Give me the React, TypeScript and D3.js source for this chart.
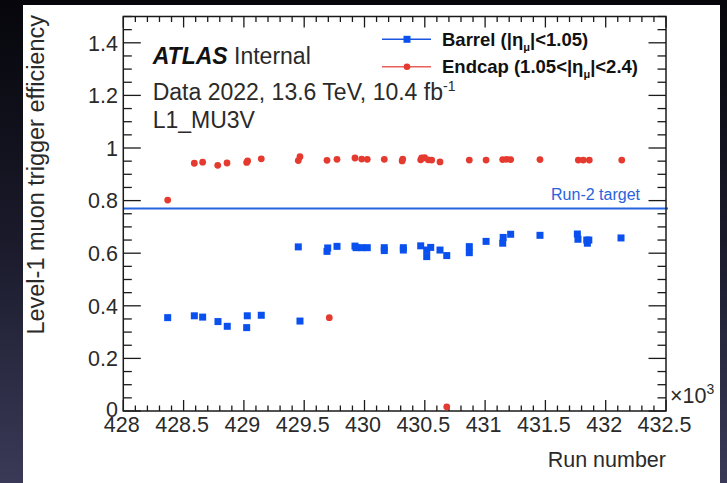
import * as d3 from "d3";

const WIDTH = 727;
const HEIGHT = 483;
const MARGIN = { top: 16.5, right: 61, bottom: 72, left: 123.3 };

// run numbers (x10^3) and L1_MU3V efficiencies
const barrelRuns = [
  428.368, 428.589, 428.658, 428.785, 428.862, 429.028, 429.023, 429.144, 429.451, 429.465,
  429.689, 429.695, 429.772, 429.921, 429.93, 429.977, 430.023, 430.164, 430.164, 430.322,
  430.322, 430.466, 430.516, 430.516, 430.549, 430.626, 430.682, 430.869, 430.869, 431.008,
  431.146, 431.15, 431.212, 431.455, 431.765, 431.77, 431.843, 431.848, 431.86, 432.127,
];
const barrelEff = [
  0.355, 0.362, 0.357, 0.34, 0.322, 0.362, 0.317, 0.364, 0.624, 0.342,
  0.607, 0.62, 0.626, 0.627, 0.621, 0.621, 0.621, 0.621, 0.61, 0.621,
  0.612, 0.628, 0.612, 0.587, 0.622, 0.612, 0.591, 0.625, 0.602, 0.645,
  0.638, 0.66, 0.672, 0.668, 0.673, 0.653, 0.65, 0.638, 0.65, 0.658,
];
const endcapRuns = [
  428.368, 428.589, 428.658, 428.783, 428.86, 429.023, 429.031, 429.144, 429.451, 429.465,
  429.689, 429.708, 429.772, 429.921, 429.977, 430.023, 430.164, 430.312, 430.317, 430.466,
  430.474, 430.498, 430.529, 430.557, 430.626, 430.682, 430.869, 431.008, 431.146, 431.179,
  431.212, 431.455, 431.773, 431.814, 431.864, 432.133,
];
const endcapEff = [
  0.802, 0.942, 0.946, 0.934, 0.943, 0.945, 0.951, 0.959, 0.952, 0.967,
  0.953, 0.355, 0.957, 0.962, 0.958, 0.957, 0.957, 0.951, 0.958, 0.955,
  0.962, 0.963, 0.955, 0.954, 0.947, 0.016, 0.954, 0.954, 0.956, 0.957,
  0.956, 0.956, 0.954, 0.954, 0.954, 0.954,
];
const run2Target = 0.77;

const BLUE = "#0a50ee";
const RED = "#e53a2f";
const INK = "#2a2a2a";
const FONT = "'Liberation Sans', Arial, Helvetica, sans-serif";

export default function App() {
  const x0 = MARGIN.left;
  const x1 = WIDTH - MARGIN.right;
  const y0 = HEIGHT - MARGIN.bottom;
  const y1 = MARGIN.top;

  const xScale = d3.scaleLinear().domain([428, 432.5]).range([x0, x1]);
  const yScale = d3.scaleLinear().domain([0, 1.5]).range([y0, y1]);

  const xMajor = d3.ticks(428, 432.5, 9);
  const xMinor = d3.ticks(428, 432.5, 45);
  const yMajor = d3.ticks(0, 1.5, 8);
  const yMinor = d3.ticks(0, 1.5, 30);
  const fmt = d3.format("~g");

  const barrel = barrelRuns.map((r, i) => ({ r, e: barrelEff[i] }));
  const endcap = endcapRuns.map((r, i) => ({ r, e: endcapEff[i] }));

  const xMajLen = 11;
  const xMinLen = 5.5;
  const yMajLen = 17.5;
  const yMinLen = 8.5;

  return (
    <div style={{ position: "absolute", left: 0, top: 0 }}>
      <svg width={WIDTH} height={HEIGHT} style={{ display: "block" }}>
        <defs>
          <linearGradient id="bg" x1="0" y1="0" x2="0" y2="1">
            <stop offset="0" stopColor="#06060b" />
            <stop offset="0.5" stopColor="#1a1a2b" />
            <stop offset="1" stopColor="#3a3a58" />
          </linearGradient>
        </defs>
        <rect width={WIDTH} height={HEIGHT} fill="url(#bg)" />
        <rect x={23} y={5} width={697} height={HEIGHT - 5} fill="#fff" />

        {/* run-2 target */}
        <line x1={x0} x2={x1 + 2} y1={yScale(run2Target)} y2={yScale(run2Target)} stroke="#2563e0" strokeWidth={2} />
        <text x={640} y={yScale(run2Target) - 8} textAnchor="end" fontFamily={FONT} fontSize={16} fill="#2a62dc">
          Run-2 target
        </text>

        {/* ticks */}
        <g stroke="#1a1a1a" strokeWidth={1.3}>
          {xMinor.map((t) => {
            const major = xMajor.some((m) => Math.abs(m - t) < 1e-6);
            const len = major ? xMajLen : xMinLen;
            return (
              <g key={"x" + t}>
                <line x1={xScale(t)} x2={xScale(t)} y1={y0} y2={y0 - len} />
                <line x1={xScale(t)} x2={xScale(t)} y1={y1} y2={y1 + len} />
              </g>
            );
          })}
          {yMinor.map((t) => {
            const major = yMajor.some((m) => Math.abs(m - t) < 1e-6);
            const len = major ? yMajLen : yMinLen;
            return (
              <g key={"y" + t}>
                <line x1={x0} x2={x0 + len} y1={yScale(t)} y2={yScale(t)} />
                <line x1={x1} x2={x1 - len} y1={yScale(t)} y2={yScale(t)} />
              </g>
            );
          })}
        </g>
        <rect x={x0} y={y1} width={x1 - x0} height={y0 - y1} fill="none" stroke="#1a1a1a" strokeWidth={1.5} />

        {/* tick labels */}
        <g fontFamily={FONT} fontSize={21.5} fill={INK}>
          {xMajor.map((t) => (
            <text key={"xl" + t} x={xScale(t) - 1.5} y={432} textAnchor="middle">
              {fmt(t)}
            </text>
          ))}
          {yMajor.map((t) => (
            <text key={"yl" + t} x={118} y={yScale(t) - (t === 0 ? 2 : 0)} dy="0.36em" textAnchor="end">
              {fmt(t)}
            </text>
          ))}
          <text x={670} y={403}>
            ×10<tspan fontSize={14} dy={-9}>3</tspan>
          </text>
        </g>

        {/* axis titles */}
        <text x={x1} y={467} textAnchor="end" fontFamily={FONT} fontSize={21.5} fill={INK}>
          Run number
        </text>
        <text
          transform={`translate(44,${y1 - 1.5}) rotate(-90)`}
          textAnchor="end"
          fontFamily={FONT}
          fontSize={23.5}
          fill={INK}
        >
          Level-1 muon trigger efficiency
        </text>

        {/* ATLAS labels */}
        <g fontFamily={FONT} fontSize={23} fill={INK}>
          <text x={152.7} y={64}>
            <tspan fontWeight="bold" fontStyle="italic" fill="#111">ATLAS</tspan> Internal
          </text>
          <text x={152.7} y={100}>
            Data 2022, 13.6 TeV, 10.4 fb<tspan fontSize={14} dy={-9}>-1</tspan>
          </text>
          <text x={152.7} y={128}>
            L1_MU3V
          </text>
        </g>

        {/* legend */}
        <g fontFamily={FONT} fontSize={18.5} fontWeight="bold" fill="#111">
          <line x1={382} x2={431} y1={39.3} y2={39.3} stroke="#1a56e0" strokeWidth={1.5} />
          <rect x={407 - 3.5} y={39.3 - 3.5} width={7} height={7} fill={BLUE} />
          <text x={442} y={45.5}>
            Barrel (|η<tspan fontSize={11} dy={5}>μ</tspan>
            <tspan dy={-5}>|&lt;1.05)</tspan>
          </text>
          <line x1={382} x2={431} y1={66.7} y2={66.7} stroke="#e8605a" strokeWidth={1.5} />
          <circle cx={407} cy={66.7} r={3.3} fill={RED} />
          <text x={442} y={72.5}>
            Endcap (1.05&lt;|η<tspan fontSize={11} dy={5}>μ</tspan>
            <tspan dy={-5}>|&lt;2.4)</tspan>
          </text>
        </g>

        {/* data */}
        <g fill={BLUE}>
          {barrel.map((d, i) => (
            <rect key={i} x={xScale(d.r) - 3.5} y={yScale(d.e) - 3.5} width={7} height={7} />
          ))}
        </g>
        <g fill={RED}>
          {endcap.map((d, i) => (
            <circle key={i} cx={xScale(d.r)} cy={yScale(d.e)} r={3.4} />
          ))}
        </g>
      </svg>
    </div>
  );
}
